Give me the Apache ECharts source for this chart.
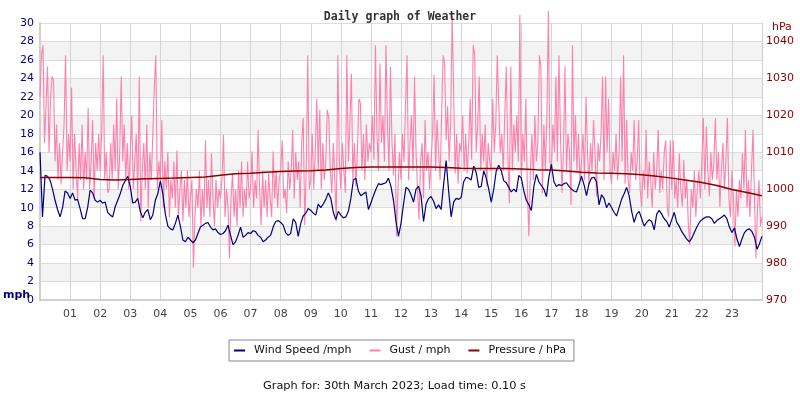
<!DOCTYPE html>
<html>
<head>
<meta charset="utf-8">
<title>Daily graph of Weather</title>
<script src="https://cdn.jsdelivr.net/npm/echarts@6/dist/echarts.min.js"></script>
<style>
    html, body { margin: 0; padding: 0; background: #fff; }
    #chart { width: 800px; height: 400px; }
</style>
</head>
<body>
<div id="chart"></div>
<script>
// wind speed, mph, every 5 minutes from 00:00 (one row per hour)
var windSpeed = [
    16.0, 9.0, 13.5, 13.4, 13.0, 12.0, 10.8, 9.8, 9.0, 10.0, 11.8, 11.6,
    11.0, 11.6, 10.8, 10.9, 9.9, 8.8, 8.8, 10.0, 11.9, 11.6, 10.8, 10.6,
    10.8, 10.5, 10.6, 9.5, 9.2, 9.0, 10.1, 10.8, 11.5, 12.4, 12.9, 13.4,
    12.3, 10.5, 10.6, 11.0, 9.6, 8.9, 9.5, 9.8, 8.7, 9.2, 10.8, 11.5,
    12.9, 11.5, 9.3, 8.0, 7.7, 7.6, 8.3, 9.2, 8.0, 6.5, 6.3, 6.8,
    6.5, 6.2, 6.5, 7.2, 7.9, 8.1, 8.3, 8.4, 7.9, 7.6, 7.7, 7.3,
    7.1, 7.2, 7.5, 8.1, 7.0, 6.0, 6.3, 7.0, 7.9, 6.8, 7.0, 7.3,
    7.2, 7.5, 7.4, 7.0, 6.8, 6.3, 6.5, 6.8, 7.0, 7.9, 8.5, 8.6,
    8.4, 8.1, 7.3, 7.0, 7.2, 8.8, 8.4, 6.9, 8.3, 9.1, 9.4, 9.9,
    9.7, 9.4, 9.2, 10.4, 10.0, 10.4, 10.9, 11.6, 11.0, 9.5, 8.7, 9.6,
    9.2, 8.9, 9.0, 9.6, 11.0, 13.0, 13.2, 11.8, 11.3, 11.5, 11.7, 9.8,
    10.5, 11.3, 12.0, 12.6, 12.5, 12.6, 12.7, 13.2, 12.3, 10.8, 8.5, 6.9,
    8.3, 10.4, 12.2, 12.0, 11.4, 10.6, 12.0, 12.3, 11.3, 8.5, 10.4, 11.0,
    11.2, 10.7, 9.9, 10.3, 9.8, 12.5, 15.1, 11.8, 9.0, 10.6, 11.0, 10.9,
    11.1, 12.8, 13.3, 13.2, 13.0, 14.5, 13.8, 12.2, 12.3, 14.0, 13.2, 12.0,
    10.6, 12.0, 14.0, 14.6, 14.0, 12.9, 12.7, 12.2, 11.7, 12.0, 11.7, 13.5,
    13.2, 11.8, 10.8, 10.3, 9.7, 12.3, 13.6, 12.8, 12.4, 12.0, 11.2, 13.3,
    14.7, 12.8, 12.3, 12.5, 12.4, 12.6, 12.7, 12.3, 12.0, 11.8, 11.7, 12.5,
    13.4, 12.5, 11.3, 12.6, 13.2, 13.3, 12.8, 10.3, 11.4, 11.0, 10.0, 10.5,
    10.0, 9.5, 9.1, 10.0, 10.9, 11.5, 12.2, 11.3, 9.6, 8.4, 9.3, 9.6,
    8.8, 8.0, 8.4, 8.7, 8.5, 7.6, 9.3, 9.7, 9.3, 8.8, 8.5, 7.9,
    8.7, 9.5, 8.4, 8.0, 7.4, 7.0, 6.6, 6.3, 6.7, 7.3, 7.9, 8.4,
    8.7, 8.9, 9.0, 9.0, 8.8, 8.3, 8.6, 8.8, 9.0, 9.2, 8.8, 7.9,
    7.3, 7.8, 6.6, 5.8, 6.6, 7.3, 7.6, 7.7, 7.4, 6.8, 5.5, 6.1,
    6.9
];

// gust, mph, every 3 minutes from 00:00 (one row per hour)
var gust = [
    22, 26.5, 27.6, 17, 21, 25.3, 16, 21.8, 24.2, 23.8, 15, 19, 13, 17, 12.5, 16, 19, 26.5, 14, 18,
    15, 23, 12, 18, 14, 11, 17, 13, 19, 12, 16, 13, 20.8, 12, 15, 19.5, 11, 17, 14, 18,
    14, 18, 26.5, 13, 16, 11.6, 12, 17, 13, 19, 14, 21.8, 12, 16, 24.2, 15, 19, 13, 17, 12,
    16, 20, 12, 15, 18, 11, 24.2, 8.5, 14, 17, 12, 19, 10, 16, 13, 18, 23, 26.5, 12, 15,
    13, 19.5, 10, 15, 12, 16, 9, 13, 11, 15, 10, 16.2, 9, 12, 14, 8.5, 13, 10, 14, 9,
    11, 13, 3.5, 9, 12, 10, 14, 8, 12, 9, 17.3, 10, 13, 9, 15.9, 11, 8, 13, 10, 12,
    11, 13, 17.9, 9, 12, 10, 4.5, 11, 13.7, 9, 12, 8, 14, 10, 15, 9, 12, 10, 15, 11,
    12, 16.1, 10, 13, 11, 18.4, 12, 8.1, 14, 10, 13, 9, 13.7, 11, 9, 16.1, 11, 14, 10, 13,
    14, 17.3, 11, 12, 9.4, 15, 12, 14, 18.4, 11, 16, 13, 15, 10, 17, 19.7, 8.1, 14, 26.5, 12,
    13, 18, 12, 16, 21.8, 14, 20.6, 12, 17, 13, 15, 20.6, 19.7, 14, 11.6, 17, 13, 8.5, 26.5, 15,
    12, 17, 14, 11.6, 26.5, 15, 19, 24.5, 13, 17, 12.3, 16, 21.8, 21.3, 14, 18, 13, 19, 15, 17,
    16, 20, 15.2, 27.6, 18, 14, 25.6, 17, 20, 15, 27.6, 19, 14, 25.3, 17, 13.5, 18, 6.9, 12, 16,
    13, 18, 15, 21, 26.5, 13, 17, 20, 14, 24.2, 16, 12, 8.7, 15, 17, 11, 19.5, 14, 16, 12,
    15, 18, 24.4, 14, 19.5, 16, 13, 20, 26.5, 25.6, 17.3, 21, 15, 19, 30.8, 22.7, 13.7, 18, 12.6, 17,
    16, 20, 14, 18, 13.7, 17, 21.8, 15.2, 27.6, 26.5, 16, 19, 24.2, 14, 18, 15, 19, 12.3, 17, 15,
    14, 21.8, 16, 19, 26.5, 26.5, 15.9, 18, 14, 20, 25.3, 16, 10.5, 25.3, 14, 19, 16, 20, 15, 30.9,
    13, 18, 15, 21.8, 12, 6.9, 14, 18, 13, 20, 15, 17, 26.5, 25.3, 11.6, 19, 14, 20, 31.3, 15,
    14, 19, 16, 24.2, 15, 26.5, 18, 11.6, 16, 25.3, 14, 18, 16, 10.3, 27.6, 15, 20, 14, 18, 13,
    15, 18, 13, 22, 16, 12.5, 17, 14, 19.5, 16, 11.2, 17, 15, 18, 24.2, 13, 24.2, 16, 21.8, 14,
    12.6, 16, 14, 18, 13, 16, 24.2, 15, 26.5, 12.6, 19.5, 13, 11.6, 16, 14, 19.5, 13, 15, 19.5, 12,
    10.1, 14, 12, 18.4, 11, 15, 13, 10, 16, 12, 14, 18.4, 11.6, 14, 12, 16, 17.3, 10, 9, 17.3,
    12, 17.3, 11, 13, 10, 15.9, 12, 10.1, 15.2, 11, 13, 8.3, 6, 12, 10, 14, 9, 12, 14, 11,
    15, 19.7, 12, 18.8, 14, 11.2, 16, 13, 15, 19.7, 13, 16, 10.1, 14, 17, 12, 15, 19.7, 11, 9,
    14, 11, 5.8, 12, 9, 13, 11, 15.9, 12, 18.4, 10, 13, 9, 14, 18.4, 11, 4.5, 10, 13, 8,
    9
];

// pressure, hPa, every 30 minutes from 00:00
var pressure = [
    1003.2, 1003.2, 1003.2, 1003.1, 1002.6, 1002.5, 1002.6, 1002.8,
    1002.9, 1003.0, 1003.2, 1003.3, 1003.8, 1004.2, 1004.3, 1004.6,
    1004.8, 1004.9, 1005.0, 1005.2, 1005.6, 1005.9, 1006.0, 1006.0,
    1006.0, 1006.0, 1006.0, 1005.9, 1005.7, 1005.6, 1005.6, 1005.6,
    1005.5, 1005.3, 1005.2, 1004.9, 1004.6, 1004.4, 1004.3, 1004.2,
    1003.9, 1003.5, 1003.0, 1002.4, 1001.8, 1001.0, 999.9, 999.1,
    998.2
];

var seriesNames = ['Wind Speed /mph', 'Gust / mph', 'Pressure / hPa'];

// samples -> [hour, value]
function toPoints(arr, perHour) {
    return arr.map(function (v, i) { return [i / perHour, v]; });
}

var chart = echarts.init(document.getElementById('chart'));
var option = {
    animation: false,
    backgroundColor: '#fff',
    title: {
        text: 'Daily graph of Weather',
        left: 'center',
        top: 6,
        textStyle: {
            fontFamily: 'DejaVu Sans Mono',
            fontSize: 11.5,
            fontWeight: 'bold',
            color: '#333'
        }
    },
    grid: { left: 40, right: 38, top: 23, bottom: 100 },
    legend: {
        data: [
            { name: seriesNames[0], itemStyle: { color: '#000080' } },
            { name: seriesNames[1], itemStyle: { color: '#ff80aa' } },
            { name: seriesNames[2], itemStyle: { color: '#8b0000' } }
        ],
        selectedMode: false,
        left: 'center',
        top: 340,
        icon: 'rect',
        itemWidth: 11,
        itemHeight: 2,
        itemGap: 18,
        padding: [5, 8, 5, 5],
        borderColor: '#888',
        borderWidth: 1,
        textStyle: {
            fontFamily: 'DejaVu Sans',
            fontSize: 11,
            color: '#111',
            padding: [0, 0, 0, 4]
        }
    },
    xAxis: {
        type: 'value',
        min: 0,
        max: 24,
        interval: 1,
        axisLine: { show: true, lineStyle: { color: '#cfcfcf', width: 2 } },
        axisTick: { show: false },
        axisLabel: {
            margin: 9,
            fontFamily: 'DejaVu Sans',
            fontSize: 11,
            color: '#444',
            formatter: function (v) {
                if (v === 0 || v === 24) return '';
                return v < 10 ? '0' + v : '' + v;
            }
        },
        splitLine: { show: true, lineStyle: { color: '#d4d4d4', width: 1 } }
    },
    yAxis: [
        {
            type: 'value',
            min: 0,
            max: 30,
            interval: 2,
            axisLine: { show: true, lineStyle: { color: '#cfcfcf', width: 2 } },
            axisTick: { show: false },
            axisLabel: {
                margin: 6,
                fontFamily: 'DejaVu Sans',
                fontSize: 11,
                color: '#000080'
            },
            splitLine: { show: true, lineStyle: { color: '#dcdcdc', width: 1 } },
            splitArea: { show: true, areaStyle: { color: ['#ffffff', '#f3f3f3'] } }
        },
        {
            type: 'value',
            min: 970,
            max: 1045,
            interval: 10,
            position: 'right',
            axisLine: { show: true, lineStyle: { color: '#cfcfcf', width: 1 } },
            axisTick: { show: false },
            axisLabel: {
                margin: 4,
                fontFamily: 'DejaVu Sans',
                fontSize: 11,
                color: '#8b0000',
                formatter: function (v) { return v > 1040 ? '' : String(v); }
            },
            splitLine: { show: false }
        }
    ],
    graphic: [
        {
            type: 'text',
            left: 3,
            top: 290,
            style: {
                text: 'mph',
                fill: '#000080',
                font: 'bold 11px "DejaVu Sans"'
            }
        },
        {
            type: 'text',
            left: 772,
            top: 22,
            style: {
                text: 'hPa',
                fill: '#8b0000',
                font: '11px "DejaVu Sans"'
            }
        },
        {
            type: 'text',
            left: 263,
            top: 381,
            style: {
                text: 'Graph for: 30th March 2023; Load time: 0.10 s',
                fill: '#111',
                font: '11.3px "DejaVu Sans"'
            }
        }
    ],
    series: [
        {
            name: seriesNames[1],
            type: 'line',
            yAxisIndex: 0,
            data: toPoints(gust, 20),
            showSymbol: false,
            clip: false,
            lineStyle: { color: '#ff80aa', width: 1.1 },
            itemStyle: { color: '#ff80aa' },
            z: 2
        },
        {
            name: seriesNames[0],
            type: 'line',
            yAxisIndex: 0,
            data: toPoints(windSpeed, 12),
            showSymbol: false,
            lineStyle: { color: '#000080', width: 1.2 },
            itemStyle: { color: '#000080' },
            z: 3
        },
        {
            name: seriesNames[2],
            type: 'line',
            yAxisIndex: 1,
            data: toPoints(pressure, 2),
            showSymbol: false,
            lineStyle: { color: '#8b0000', width: 1.5 },
            itemStyle: { color: '#8b0000' },
            z: 4
        }
    ]
};
chart.setOption(option);
</script>
</body>
</html>
